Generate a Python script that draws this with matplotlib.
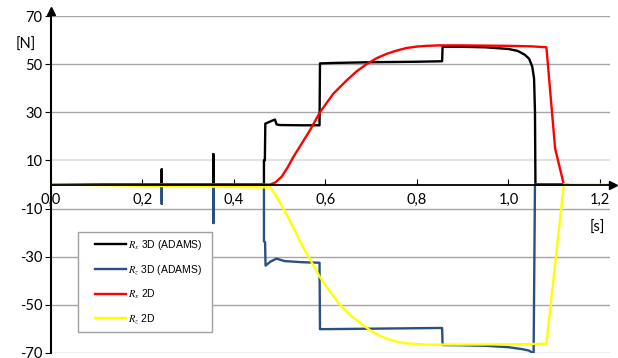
import numpy as np
import matplotlib
matplotlib.use('Agg')
import matplotlib.pyplot as plt
from matplotlib.patches import Rectangle

plt.rcParams['font.family'] = ['Lato', 'DejaVu Sans']
plt.rcParams['mathtext.fontset'] = 'stix'

# Rx 3D (ADAMS)
black_t = [0, 0.242, 0.242, 0.242, 0.355, 0.355, 0.355, 0.4655, 0.4655, 0.4675, 0.4685,
           0.475, 0.482, 0.4895, 0.493, 0.5, 0.55, 0.587, 0.588, 0.62, 0.7, 0.8,
           0.855, 0.856, 0.9, 0.95, 1.0, 1.02, 1.035, 1.045, 1.052, 1.056, 1.058, 1.059, 1.12]
black_v = [0, 0, 6.3, 0, 0, 12.6, 0, 0, 10, 10, 25.3,
           25.8, 26.4, 27, 25, 24.7, 24.6, 24.6, 50.3, 50.5, 50.8, 51,
           51.2, 57.2, 57.2, 57, 56.3, 55.5, 54, 52.3, 49, 44, 30, 0, 0]

# Rz 3D (ADAMS)
blue_t = [0, 0.242, 0.242, 0.242, 0.355, 0.355, 0.355, 0.4655, 0.4655, 0.468, 0.469,
          0.48, 0.493, 0.51, 0.55, 0.587, 0.588, 0.65, 0.75, 0.855, 0.856, 0.9,
          0.95, 1.0, 1.03, 1.045, 1.055, 1.058, 1.12]
blue_v = [0, 0, -8, 0, 0, -16, 0, 0, -23.6, -24, -33.7,
          -32, -30.8, -31.8, -32.3, -32.5, -60.1, -60, -59.8, -59.6, -66.7, -66.8,
          -67, -67.6, -68.4, -69, -70.2, 0, 0]

# Rx 2D
red_t = [0, 0.35, 0.479, 0.49, 0.504, 0.517, 0.53, 0.548, 0.566, 0.588, 0.617, 0.646,
         0.668, 0.69, 0.712, 0.734, 0.755, 0.777, 0.8, 0.821, 0.85, 0.9, 0.95, 1.0,
         1.05, 1.083, 1.102, 1.121, 1.13]
red_v = [0, 0, 0, 0.8, 3.2, 7, 11.5, 17, 22.5, 30, 37.7, 43.2,
         47, 50, 52.5, 54.3, 55.6, 56.7, 57.3, 57.6, 57.8, 57.8, 57.7, 57.6,
         57.4, 57, 15, 0, 0]

# Rz 2D
yellow_t = [0, 0.479, 0.49, 0.501, 0.515, 0.53, 0.548, 0.566, 0.588, 0.61, 0.632, 0.653,
            0.675, 0.697, 0.719, 0.741, 0.763, 0.79, 0.821, 0.9, 1.0, 1.083, 1.121, 1.222]
yellow_v = [0, -1.2, -4, -7.8, -12.5, -18, -25, -31, -38.5, -44.5, -50, -54,
            -57.4, -60.5, -62.9, -64.5, -65.6, -66.2, -66.5, -66.5, -66.4, -66.2, 0, 0]

xticks = [0.0, 0.2, 0.4, 0.6, 0.8, 1.0, 1.2]
xtick_labels = ['0,0', '0,2', '0,4', '0,6', '0,8', '1,0', '1,2']
yticks = [-70, -50, -30, -10, 10, 30, 50, 70]
ytick_labels = ['-70', '-50', '-30', '-10', '10', '30', '50', '70']
labels = [r'$R_x$ 3D (ADAMS)', r'$R_z$ 3D (ADAMS)', r'$R_x$ 2D', r'$R_z$ 2D']

fig = plt.figure(figsize=(6.18, 3.58), dpi=100)
ax = fig.add_axes([51/618, 5/358, 559/618, 337/358])

ax.plot(black_t, black_v, color='black', lw=1.7, label=labels[0])
ax.plot(blue_t, blue_v, color='#2B4F81', lw=1.7, label=labels[1])
ax.plot(red_t, red_v, color='#FF0000', lw=1.7, label=labels[2])
ax.plot(yellow_t, yellow_v, color='#FFFF00', lw=1.7, label=labels[3])

ax.set_xlim(0, 1.222)
ax.set_ylim(-70, 70)

ax.set_yticks(yticks)
ax.set_yticklabels(ytick_labels)
ax.set_xticks(xticks)
ax.set_xticklabels(xtick_labels)
ax.grid(axis='y', color='#A6A6A6', lw=1)
ax.yaxis.get_gridlines()[4].set_color('#E3E3E3')
ax.yaxis.get_gridlines()[4].set_linewidth(1.5)
ax.set_axisbelow(True)

for s in ['top', 'right']:
    ax.spines[s].set_visible(False)
ax.spines['left'].set_linewidth(1.5)
ax.spines['bottom'].set_position(('data', 0))
ax.spines['bottom'].set_linewidth(1.3)
ax.tick_params(axis='x', direction='in', length=4, pad=6, labelsize=10.5, color='black')
ax.tick_params(axis='y', direction='out', length=4, pad=2, labelsize=10.5, color='black')
ax.xaxis.get_major_ticks()[0].tick1line.set_visible(False)

# arrow heads
ax.plot([0], [72], marker='^', color='black', ms=6, clip_on=False)
ax.plot([1.228], [0], marker='>', color='black', ms=6, clip_on=False)

ax.text(-0.055, 58, '[N]', fontsize=10.5, ha='center', va='center')
ax.text(1.195, -18, '[s]', fontsize=10.5, ha='center', va='center')

# legend box drawn by hand, legend entries without frame
box = Rectangle((78/618, 1 - 332/358), 134/618, 100/358, transform=fig.transFigure,
                facecolor='white', edgecolor='#A0A0A0', lw=1, zorder=2.5)
ax.add_patch(box)
leg = ax.legend(loc='upper left', bbox_to_anchor=(95/618, 1 - 238/358),
                bbox_transform=fig.transFigure, frameon=False,
                prop={'family': 'Liberation Sans', 'size': 7.5},
                labelspacing=1.05, handlelength=3.0, handletextpad=0.15,
                borderpad=0, borderaxespad=0)

fig.savefig('out.png', dpi=100)
